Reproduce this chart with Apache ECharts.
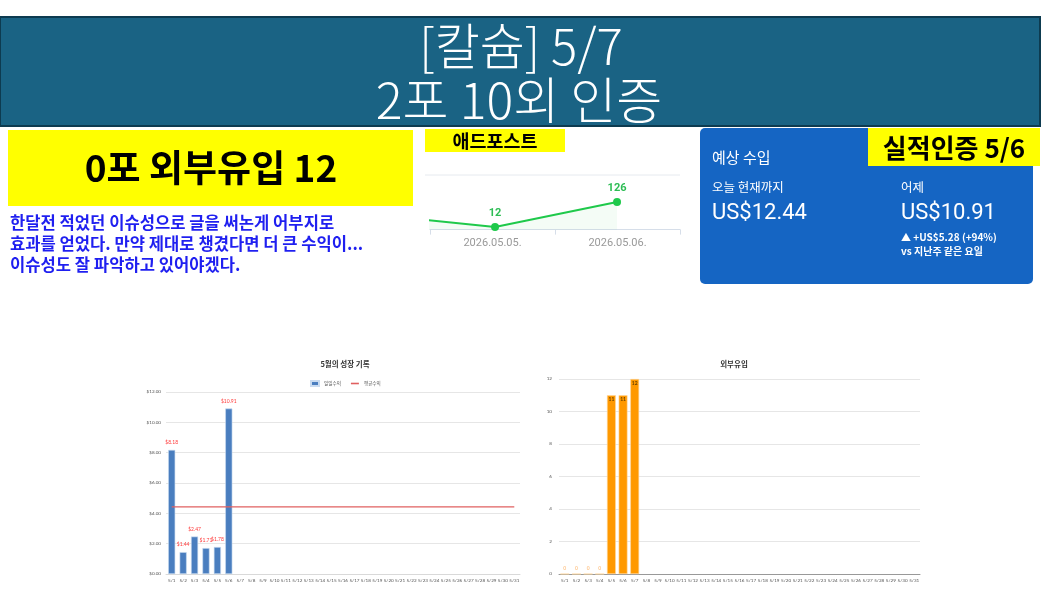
<!DOCTYPE html>
<html><head><meta charset="utf-8">
<script src="https://cdn.jsdelivr.net/npm/echarts@6/dist/echarts.min.js"></script>
<style>html,body{margin:0;padding:0;background:#fff;}#c{width:1046px;height:594px;}</style>
</head><body><div id="c"></div>
<script>
// ---- data ----
const days = ['5/1','5/2','5/3','5/4','5/5','5/6','5/7','5/8','5/9','5/10','5/11','5/12','5/13','5/14','5/15','5/16','5/17','5/18','5/19','5/20','5/21','5/22','5/23','5/24','5/25','5/26','5/27','5/28','5/29','5/30','5/31'];
const dailyRevenue = [8.18, 1.44, 2.47, 1.71, 1.78, 10.91];
const averageRevenue = 4.42;
const externalInflow = [0, 0, 0, 0, 11, 11, 12];
const revenueTicks = [0, 2, 4, 6, 8, 10, 12];
const adpostDates = ['2026.05.04.', '2026.05.05.', '2026.05.06.'];
const adpostValues = [68, 12, 126];

const FONT = '"Noto Sans CJK KR", "Noto Sans", sans-serif';
const chart = echarts.init(document.getElementById('c'), null, {renderer: 'canvas'});

function txt(x, y, text, size, color, weight, align, family) {
  return {type: 'text', x: x, y: y, z: 100, style: {text: text, fontSize: size, fill: color,
    fontWeight: weight || 'normal', fontFamily: family || FONT, textAlign: align || 'left', textVerticalAlign: 'middle'}};
}

const graphics = [
  // banner
  {type: 'rect', shape: {x: 0, y: 17, width: 1040, height: 109}, style: {fill: '#1a6384', stroke: '#0d3b50', lineWidth: 2}, z: 1},
  {type: 'text', x: 521, y: 46, z: 100, scaleX: 0.98, style: {text: '[칼슘] 5/7', fontSize: 50, fill: '#ffffff', fontWeight: 300, fontFamily: FONT, textAlign: 'center', textVerticalAlign: 'middle'}},
  {type: 'text', x: 519, y: 100, z: 100, scaleX: 1.0, style: {text: '2포 10외 인증', fontSize: 50, fill: '#ffffff', fontWeight: 300, fontFamily: FONT, textAlign: 'center', textVerticalAlign: 'middle'}},
  // left yellow box
  {type: 'rect', shape: {x: 8, y: 130, width: 405, height: 76}, style: {fill: '#ffff00'}, z: 1},
  txt(211, 168, '0포 외부유입 12', 37, '#000000', 'bold', 'center'),
  txt(10, 223, '한달전 적었던 이슈성으로 글을 써논게 어부지로', 16.6, '#1f1ff0', 'bold'),
  txt(10, 244, '효과를 얻었다. 만약 제대로 챙겼다면 더 큰 수익이...', 16.6, '#1f1ff0', 'bold'),
  txt(10, 265, '이슈성도 잘 파악하고 있어야겠다.', 16.6, '#1f1ff0', 'bold'),
  // adpost label
  {type: 'rect', shape: {x: 425, y: 129, width: 140, height: 23}, style: {fill: '#ffff00'}, z: 1},
  txt(495, 141, '애드포스트', 18.5, '#000000', 'bold', 'center'),
  {type: 'line', shape: {x1: 425, y1: 175, x2: 680, y2: 175}, style: {stroke: '#e6eaef', lineWidth: 1}, z: 1},
  // revenue card
  {type: 'rect', shape: {x: 700, y: 128, width: 333, height: 156, r: 5}, style: {fill: '#1565c3'}, z: 1},
  {type: 'rect', shape: {x: 868, y: 128, width: 172, height: 38}, style: {fill: '#ffff00'}, z: 2},
  txt(954, 148, '실적인증 5/6', 26, '#000000', 'bold', 'center'),
  txt(712, 157, '예상 수입', 15, '#ffffff', 'normal'),
  txt(712, 187, '오늘 현재까지', 12.5, '#ffffff', 'normal'),
  txt(712, 213, 'US$12.44', 22, '#ffffff', 'normal', 'left', 'Roboto, sans-serif'),
  txt(901, 187, '어제', 12.5, '#ffffff', 'normal'),
  txt(901, 213, 'US$10.91', 22, '#ffffff', 'normal', 'left', 'Roboto, sans-serif'),
  txt(901, 237, '▲ +US$5.28 (+94%)', 10, '#ffffff', 'bold'),
  txt(901, 251, 'vs 지난주 같은 요일', 10, '#ffffff', 'bold'),
  // chart titles
  txt(345, 364, '5월의 성장 기록', 7.5, '#333333', 'bold', 'center'),
  txt(734, 364, '외부유입', 7.5, '#333333', 'bold', 'center')
];

const adpostData = adpostValues.map((v, i) => ({
  value: [i, v],
  label: {show: i > 0}
}));

const inflowData = externalInflow.map(v => v === 0
  ? {value: v, label: {position: 'top', distance: 3, color: '#ffc890'}}
  : {value: v, label: {position: 'insideTop', distance: 2, color: '#6b4300'}});

const smallAxisLabel = {fontSize: 4.6, color: '#555555', fontFamily: 'Lato, sans-serif', interval: 0, margin: 4};

const option = {
  backgroundColor: '#ffffff',
  animation: false,
  graphic: graphics,
  legend: {
    data: [{name: '일일수익', icon: 'rect'}, {name: '평균수익', icon: 'path://M0,4L10,4L10,6L0,6Z'}],
    left: 305, top: 375, itemWidth: 8, itemHeight: 5, itemGap: 10,
    textStyle: {fontSize: 4.6, color: '#555555', fontFamily: FONT}
  },
  grid: [
    {left: 430, top: 175, width: 250, height: 57},
    {left: 166, top: 392, width: 354, height: 182},
    {left: 559, top: 379, width: 361, height: 195}
  ],
  xAxis: [
    {type: 'category', gridIndex: 0, data: adpostDates.slice(1), boundaryGap: true,
      axisLine: {lineStyle: {color: '#d6dee9'}}, axisTick: {show: true, length: 5, lineStyle: {color: '#d6dee9'}},
      axisLabel: {fontSize: 11, color: '#999999', margin: 6, fontFamily: 'Roboto, sans-serif'}},
    {type: 'value', gridIndex: 0, min: 0.467, max: 2.516, show: false},
    {type: 'category', gridIndex: 1, data: days, axisLine: {lineStyle: {color: '#d9d9d9'}}, axisTick: {show: false}, axisLabel: smallAxisLabel},
    {type: 'category', gridIndex: 2, data: days, axisLine: {lineStyle: {color: '#999999'}}, axisTick: {show: false}, axisLabel: smallAxisLabel}
  ],
  yAxis: [
    {type: 'value', gridIndex: 0, min: -11, max: 250, show: false},
    {type: 'value', gridIndex: 1, min: revenueTicks[0], max: revenueTicks[revenueTicks.length - 1], interval: 2,
      axisLine: {show: false}, axisTick: {show: false},
      splitLine: {lineStyle: {color: '#e6e6e6'}},
      axisLabel: {fontSize: 4.6, color: '#555555', fontFamily: 'Lato, sans-serif', margin: 5, formatter: v => '$' + v.toFixed(2)}},
    {type: 'value', gridIndex: 2, min: 0, max: 12, interval: 2,
      axisLine: {show: false}, axisTick: {show: false},
      splitLine: {lineStyle: {color: '#e6e6e6'}},
      axisLabel: {fontSize: 4.6, color: '#555555', fontFamily: 'Lato, sans-serif', margin: 7}}
  ],
  series: [
    {type: 'line', xAxisIndex: 1, yAxisIndex: 0, data: adpostData, clip: true,
      symbol: 'circle', symbolSize: 8, lineStyle: {color: '#1fc94b', width: 2}, itemStyle: {color: '#1fc94b'},
      areaStyle: {color: 'rgba(31,201,75,0.07)'},
      label: {position: 'top', distance: 4, fontSize: 11, fontWeight: 'bold', color: '#2ebd55', fontFamily: 'Roboto, sans-serif'}},
    {name: '일일수익', type: 'bar', xAxisIndex: 2, yAxisIndex: 1, data: dailyRevenue, barWidth: '62%',
      itemStyle: {color: '#4a7ebf', borderColor: '#c9dbf0', borderWidth: 0.6},
      label: {show: true, position: 'top', distance: 5, fontSize: 5, color: '#ff3b3b', fontFamily: 'Lato, sans-serif',
        formatter: p => '$' + p.value.toFixed(2)}},
    {name: '평균수익', type: 'line', xAxisIndex: 2, yAxisIndex: 1,
      data: [[days[0], averageRevenue], [days[days.length - 1], averageRevenue]],
      symbol: 'none', lineStyle: {color: '#e06060', width: 1.2}, itemStyle: {color: '#e06060'}},
    {name: '외부유입', type: 'bar', xAxisIndex: 3, yAxisIndex: 2, data: inflowData, barWidth: '76%',
      itemStyle: {color: '#ff9900', borderColor: '#ffd9a0', borderWidth: 0.6},
      label: {show: true, fontSize: 5, fontFamily: 'Lato, sans-serif', fontWeight: 'bold'}}
  ]
};
chart.setOption(option);
</script></body></html>
